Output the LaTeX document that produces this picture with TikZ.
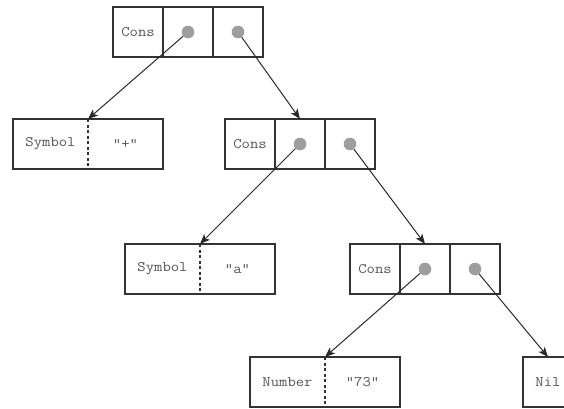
\documentclass[tikz,border=0pt]{standalone}
\usepackage{fontspec}
\setmonofont{Latin Modern Mono}[FakeStretch=1.12]
\usetikzlibrary{arrows.meta,calc}
\definecolor{boxline}{HTML}{333333}
\definecolor{edge}{HTML}{2A2A2A}
\definecolor{dotgray}{HTML}{9E9E9E}
\definecolor{label}{HTML}{555555}
\begin{document}
\begin{tikzpicture}[x=1pt,y=-1pt,
  txt/.style={font=\ttfamily\fontsize{14.5}{16}\selectfont, text=label},
  cell/.style={draw=boxline, line width=1.1pt, minimum width=50pt, minimum height=50pt,
    inner sep=0pt, outer sep=0pt, anchor=north west, txt},
  pairbox/.style={cell, minimum width=150pt},
  divider/.style={draw=boxline, line width=1.1pt, dash pattern=on 3pt off 2.5pt},
  dot/.style={circle, fill=dotgray, minimum size=12.6pt, inner sep=0pt},
  link/.style={draw=edge, line width=1pt, -{Stealth[length=10pt,width=8pt,inset=2.5pt]}}
]
\useasboundingbox (0,0) rectangle (564,408);

% Cons cells: tag cell followed by two pointer cells
\node[cell] (c1t) at (113,7) {Cons};
\node[cell] (c1a) at (c1t.north east) {};
\node[cell] (c1b) at (c1a.north east) {};
\node[dot] (c1da) at (c1a) {};
\node[dot] (c1db) at (c1b) {};

\node[cell] (c2t) at (225,119) {Cons};
\node[cell] (c2a) at (c2t.north east) {};
\node[cell] (c2b) at (c2a.north east) {};
\node[dot] (c2da) at (c2a) {};
\node[dot] (c2db) at (c2b) {};

\node[cell] (c3t) at (350,244) {Cons};
\node[cell] (c3a) at (c3t.north east) {};
\node[cell] (c3b) at (c3a.north east) {};
\node[dot] (c3da) at (c3a) {};
\node[dot] (c3db) at (c3b) {};

% Atoms: type tag and value split by a dashed line
\node[pairbox] (s1) at (13,119) {};
\draw[divider] (s1.north) -- (s1.south);
\node[txt] (s1k) at ($(s1.west)!0.5!(s1.center)$) {Symbol};
\node[txt] (s1v) at ($(s1.east)!0.5!(s1.center)$) {"+"};

\node[pairbox] (s2) at (125,244) {};
\draw[divider] (s2.north) -- (s2.south);
\node[txt] (s2k) at ($(s2.west)!0.5!(s2.center)$) {Symbol};
\node[txt] (s2v) at ($(s2.east)!0.5!(s2.center)$) {"a"};

\node[pairbox] (n1) at (250,357) {};
\draw[divider] (n1.north) -- (n1.south);
\node[txt] (n1k) at ($(n1.west)!0.5!(n1.center)$) {Number};
\node[txt] (n1v) at ($(n1.east)!0.5!(n1.center)$) {"73"};

\node[cell] (nil) at (523,357) {Nil};

% Pointers
\draw[link] (c1da) -- (s1.north);
\draw[link] (c1db) -- (c2a.north);
\draw[link] (c2da) -- (s2.north);
\draw[link] (c2db) -- (c3a.north);
\draw[link] (c3da) -- (n1.north);
\draw[link] (c3db) -- (nil.north);
\end{tikzpicture}
\end{document}
